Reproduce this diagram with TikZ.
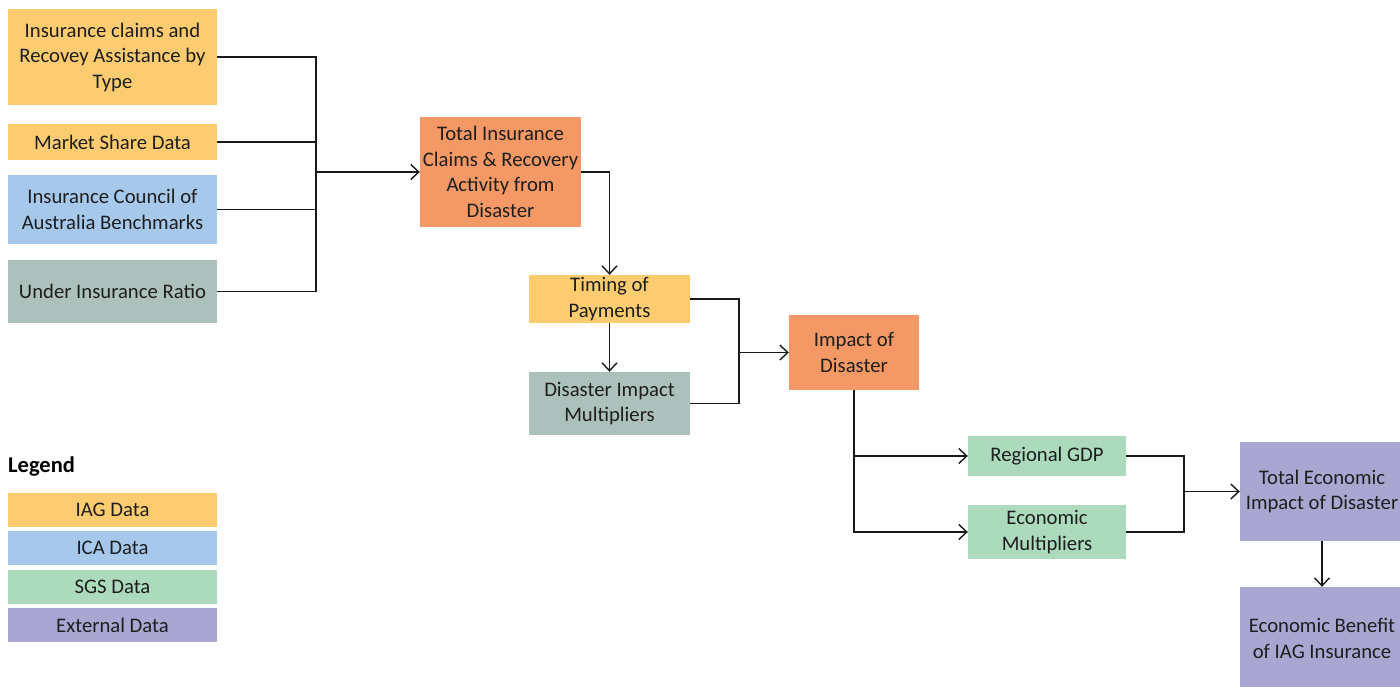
\documentclass[tikz,border=0pt]{standalone}
\usepackage{fontspec}
\setmainfont{Carlito}
\usetikzlibrary{arrows.meta}
\definecolor{cyel}{RGB}{253,204,112}
\definecolor{cora}{RGB}{244,153,102}
\definecolor{cblu}{RGB}{166,201,235}
\definecolor{cgry}{RGB}{173,193,188}
\definecolor{cgrn}{RGB}{172,218,189}
\definecolor{cpur}{RGB}{169,166,210}
\definecolor{ctxt}{RGB}{30,30,30}
\tikzset{
  box/.style={rectangle, inner sep=0pt, align=center, text=ctxt,
    font=\fontsize{20.7}{25.5}\selectfont},
  conn/.style={line width=1.4pt, draw=black!90},
  arr/.style={conn, -{Straight Barb[length=8pt,width=15pt,line width=1.4pt]}},
}
\begin{document}
\begin{tikzpicture}[x=1pt,y=-1pt]
\useasboundingbox (0,0) rectangle (1400,687);
% source boxes
\node[box, fill=cyel, minimum width=209pt, minimum height=96pt] (A) at (112.5,57) {Insurance claims and\\Recovey Assistance by\\Type};
\node[box, fill=cyel, minimum width=209pt, minimum height=36pt] (B) at (112.5,142) {Market Share Data};
\node[box, fill=cblu, minimum width=209pt, minimum height=69pt] (C) at (112.5,209.5) {Insurance Council of\\Australia Benchmarks};
\node[box, fill=cgry, minimum width=209pt, minimum height=63pt] (D) at (112.5,291.5) {Under Insurance Ratio};
% main chain
\node[box, fill=cora, minimum width=161pt, minimum height=110pt] (E) at (500.5,172) {Total Insurance\\Claims \& Recovery\\Activity from\\Disaster};
\node[box, fill=cyel, minimum width=161pt, minimum height=48pt] (F) at (609.5,299) {Timing of\\Payments};
\node[box, fill=cgry, minimum width=161pt, minimum height=63pt] (G) at (609.5,403.5) {Disaster Impact\\Multipliers};
\node[box, fill=cora, minimum width=130pt, minimum height=75pt] (H) at (854,352.5) {Impact of\\Disaster};
\node[box, fill=cgrn, minimum width=158pt, minimum height=40pt] (I) at (1047,456) {Regional GDP};
\node[box, fill=cgrn, minimum width=158pt, minimum height=54pt] (J) at (1047,532) {Economic\\Multipliers};
\node[box, fill=cpur, minimum width=164pt, minimum height=99pt] (K) at (1322,491.5) {Total Economic\\Impact of Disaster};
\node[box, fill=cpur, minimum width=164pt, minimum height=103pt] (L) at (1322,638.5) {Economic Benefit\\of IAG Insurance};
% legend
\node[anchor=west, inner sep=0pt, font=\fontsize{22.5}{26}\selectfont\bfseries] (lg) at (8,467) {Legend};
\node[box, fill=cyel, minimum width=209pt, minimum height=34pt] (L1) at (112.5,510) {IAG Data};
\node[box, fill=cblu, minimum width=209pt, minimum height=34pt] (L2) at (112.5,548) {ICA Data};
\node[box, fill=cgrn, minimum width=209pt, minimum height=34pt] (L3) at (112.5,586.5) {SGS Data};
\node[box, fill=cpur, minimum width=209pt, minimum height=34pt] (L4) at (112.5,625) {External Data};
% junctions
\coordinate (j1) at (316,172);
\coordinate (j2) at (739,352.5);
\coordinate (j3) at (1184,491.5);
% connectors
\draw[conn] (A.east) -| (j1);
\draw[conn] (B.east) -| (j1);
\draw[conn] (C.east) -| (j1);
\draw[conn] (D.east) -| (j1);
\draw[arr] (j1) -- (E.west);
\draw[arr] (E.east) -| (F.north);
\draw[arr] (F.south) -- (G.north);
\draw[conn] (F.east) -| (j2);
\draw[conn] (G.east) -| (j2);
\draw[arr] (j2) -- (H.west);
\draw[arr] (H.south) |- (I.west);
\draw[arr] (H.south) |- (J.west);
\draw[conn] (I.east) -| (j3);
\draw[conn] (J.east) -| (j3);
\draw[arr] (j3) -- (K.west);
\draw[arr] (K.south) -- (L.north);
\end{tikzpicture}
\end{document}
